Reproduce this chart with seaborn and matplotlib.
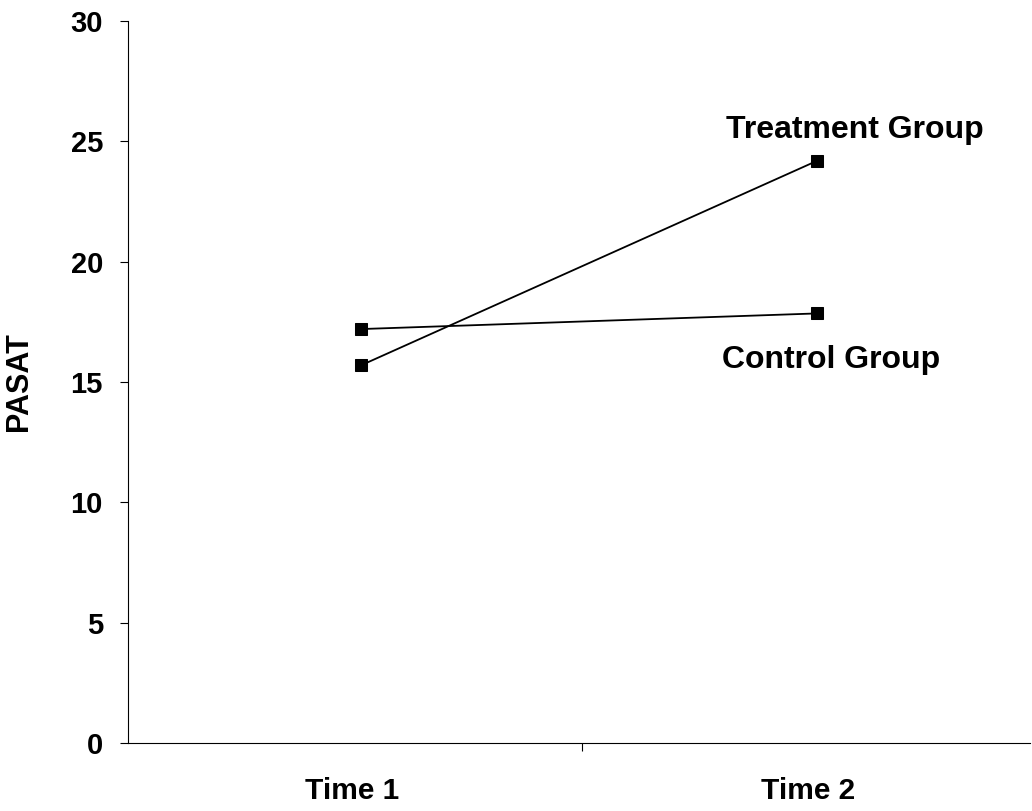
import pandas as pd
import seaborn as sns
import matplotlib.pyplot as plt
from matplotlib.transforms import ScaledTranslation

times = ['Time 1', 'Time 2']
treatment = [15.7, 24.2]
control = [17.2, 17.85]

df = pd.DataFrame({'time': times * 2,
                   'pasat': treatment + control,
                   'group': ['Treatment Group'] * 2 + ['Control Group'] * 2})

sns.set_style('white')
plt.rcParams['font.family'] = ['Liberation Sans', 'DejaVu Sans']
plt.rcParams['font.weight'] = 'bold'
for key in ['text.color', 'axes.labelcolor', 'xtick.color', 'ytick.color']:
    plt.rcParams[key] = 'black'

fig = plt.figure(figsize=(10.32, 8.11), dpi=100)
ax = fig.add_axes([0.124, 0.084, 0.874, 0.890])

sns.lineplot(data=df, x='time', y='pasat', hue='group', style='group',
             markers=['s', 's'], dashes=False, palette=['black', 'black'],
             markersize=9, linewidth=1.3, markeredgecolor='black', legend=False, ax=ax)

ax.set_ylim(0, 30)
ax.set_xlim(-0.512, 1.466)
ax.set_yticks([0, 5, 10, 15, 20, 25, 30])
ax.set_xticks([0, 1])
ax.set_xticks([0.484], minor=True)
ax.set_xticklabels(times)
ax.tick_params(axis='y', which='major', direction='out', length=6, width=0.8,
               pad=12, labelsize=21, left=True)
ax.tick_params(axis='x', which='major', bottom=False, pad=21, labelsize=21.5)
ax.tick_params(axis='x', which='minor', bottom=True, direction='out', length=6, width=0.8)
for lab in ax.get_xticklabels() + ax.get_yticklabels():
    lab.set_fontweight('bold')
# category labels sit a little left of the points, as in the original
shift = ScaledTranslation(-9 / 100, 0, fig.dpi_scale_trans)
for lab in ax.get_xticklabels():
    lab.set_transform(lab.get_transform() + shift)
ax.set_xlabel('')
ax.set_ylabel('PASAT', fontsize=22, fontweight='bold', labelpad=26)

for side in ['top', 'right']:
    ax.spines[side].set_visible(False)
for side in ['left', 'bottom']:
    ax.spines[side].set_color('black')
    ax.spines[side].set_linewidth(0.8)

# group labels next to the Time 2 points
ax.text(0.80, treatment[1] + 0.65, 'Treatment Group', fontsize=23, fontweight='bold', va='bottom')
ax.text(0.79, control[1] - 1.3, 'Control Group', fontsize=23, fontweight='bold', va='top')

fig.savefig('out.png', dpi=100, facecolor='white')
